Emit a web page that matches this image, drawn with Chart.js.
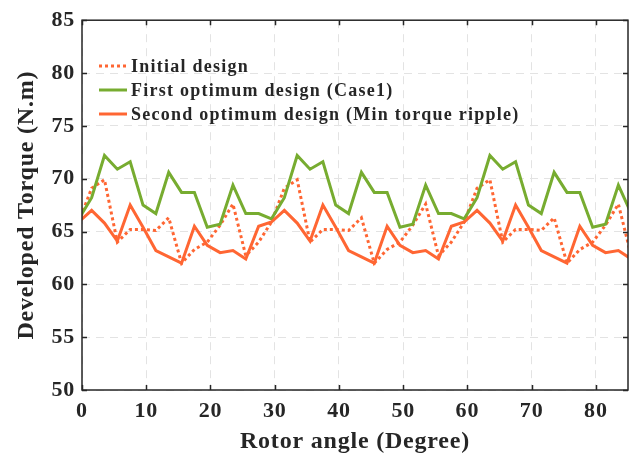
<!DOCTYPE html>
<html>
<head>
<meta charset="utf-8">
<script src="https://cdn.jsdelivr.net/npm/chart.js@4/dist/chart.umd.min.js"></script>
<style>
  html, body { margin: 0; padding: 0; background: #fff; }
  #wrap { width: 638px; height: 462px; }
</style>
</head>
<body>
<div id="wrap"><canvas id="torqueChart" width="638" height="462"></canvas></div>
<script>
// -------- DATA --------
// samples every 2 degrees; the first and last lie just outside the 0..85 axis and get clipped
const angles = [
  -0.5, 1.5, 3.5, 5.5, 7.5, 9.5, 11.5, 13.5, 15.5, 17.5, 19.5, 21.5, 23.5, 25.5, 27.5,
  29.5, 31.5, 33.5, 35.5, 37.5, 39.5, 41.5, 43.5, 45.5, 47.5, 49.5, 51.5, 53.5, 55.5, 57.5,
  59.5, 61.5, 63.5, 65.5, 67.5, 69.5, 71.5, 73.5, 75.5, 77.5, 79.5, 81.5, 83.5, 85.5
];

const initialDesign = [
  65.9, 69.1, 69.9, 64.0, 65.2, 65.2, 65.1, 66.3, 62.0, 63.3, 64.0, 65.6, 67.6, 62.7, 64.0,
  65.9, 69.1, 69.9, 64.0, 65.2, 65.2, 65.1, 66.3, 62.0, 63.3, 64.0, 65.6, 67.6, 62.7, 64.0,
  65.9, 69.1, 69.9, 64.0, 65.2, 65.2, 65.1, 66.3, 62.0, 63.3, 64.0, 65.6, 67.6, 62.7
];

const firstOptimum = [
  66.2, 68.2, 72.2, 70.9, 71.6, 67.5, 66.7, 70.6, 68.7, 68.7, 65.4, 65.7, 69.4, 66.7, 66.7,
  66.2, 68.2, 72.2, 70.9, 71.6, 67.5, 66.7, 70.6, 68.7, 68.7, 65.4, 65.7, 69.4, 66.7, 66.7,
  66.2, 68.2, 72.2, 70.9, 71.6, 67.5, 66.7, 70.6, 68.7, 68.7, 65.4, 65.7, 69.4, 66.7
];

const secondOptimum = [
  65.9, 67.0, 65.8, 64.1, 67.5, 65.4, 63.2, 62.6, 62.0, 65.5, 63.7, 63.0, 63.2, 62.4, 65.5,
  65.9, 67.0, 65.8, 64.1, 67.5, 65.4, 63.2, 62.6, 62.0, 65.5, 63.7, 63.0, 63.2, 62.4, 65.5,
  65.9, 67.0, 65.8, 64.1, 67.5, 65.4, 63.2, 62.6, 62.0, 65.5, 63.7, 63.0, 63.2, 62.4
];

const seriesNames = [
  "Initial design",
  "First optimum design (Case1)",
  "Second optimum design (Min torque ripple)"
];

const xTicks = [0, 10, 20, 30, 40, 50, 60, 70, 80];
const yTicks = [50, 55, 60, 65, 70, 75, 80, 85];

// -------- STYLE --------
const ORANGE = "#ff6633";
const GREEN = "#77ac30";
const INK = "#262626";
const SERIF = "'Liberation Serif', 'Times New Roman', serif";

function toPoints(values) {
  return values.map((v, i) => ({ x: angles[i], y: v }));
}

// the reference text is set a little loose
const looseText = {
  id: "looseText",
  beforeDraw(chart) {
    chart.ctx.letterSpacing = "0.8px";
  }
};

// box round the plot, inward ticks on all four sides, and the legend
const frameAndLegend = {
  id: "frameAndLegend",
  afterDraw(chart) {
    const ctx = chart.ctx;
    const a = chart.chartArea;
    const xs = chart.scales.x;
    const ys = chart.scales.y;
    ctx.save();
    ctx.strokeStyle = INK;
    ctx.lineWidth = 1.5;
    ctx.strokeRect(a.left, a.top, a.right - a.left, a.bottom - a.top);

    ctx.beginPath();
    xTicks.forEach((t) => {
      const px = Math.round(xs.getPixelForValue(t)) + 0.5;
      ctx.moveTo(px, a.bottom); ctx.lineTo(px, a.bottom - 5);
      ctx.moveTo(px, a.top); ctx.lineTo(px, a.top + 5);
    });
    yTicks.forEach((t) => {
      const py = Math.round(ys.getPixelForValue(t)) + 0.5;
      ctx.moveTo(a.left, py); ctx.lineTo(a.left + 5, py);
      ctx.moveTo(a.right, py); ctx.lineTo(a.right - 5, py);
    });
    ctx.stroke();

    // legend, no frame
    const styles = [
      { color: ORANGE, dash: [3, 3] },
      { color: GREEN, dash: [] },
      { color: ORANGE, dash: [] }
    ];
    ctx.font = "bold 18px " + SERIF;
    ctx.letterSpacing = "1.25px";
    ctx.textBaseline = "middle";
    ctx.fillStyle = INK;
    seriesNames.forEach((name, i) => {
      const y = 66 + i * 24;
      ctx.beginPath();
      ctx.strokeStyle = styles[i].color;
      ctx.lineWidth = 3;
      ctx.setLineDash(styles[i].dash);
      ctx.moveTo(a.left + 17, y);
      ctx.lineTo(a.left + 45, y);
      ctx.stroke();
      ctx.setLineDash([]);
      ctx.fillText(name, a.left + 49, y + 1);
    });
    ctx.restore();
  }
};

const ctx = document.getElementById("torqueChart").getContext("2d");
const chart = new Chart(ctx, {
  type: "line",
  data: {
    datasets: [
      {
        label: seriesNames[0],
        data: toPoints(initialDesign),
        borderColor: ORANGE,
        borderWidth: 3,
        borderDash: [3, 3],
        pointRadius: 0,
        tension: 0,
        order: 3
      },
      {
        label: seriesNames[1],
        data: toPoints(firstOptimum),
        borderColor: GREEN,
        borderWidth: 3,
        pointRadius: 0,
        tension: 0,
        order: 2
      },
      {
        label: seriesNames[2],
        data: toPoints(secondOptimum),
        borderColor: ORANGE,
        borderWidth: 3,
        pointRadius: 0,
        tension: 0,
        order: 1
      }
    ]
  },
  options: {
    responsive: false,
    animation: false,
    layout: { padding: { top: 15, right: 10, left: 0, bottom: 0 } },
    plugins: {
      legend: { display: false },
      tooltip: { enabled: false }
    },
    scales: {
      x: {
        type: "linear",
        min: 0,
        max: 85,
        afterFit: (scale) => { scale.height = 72; },
        afterBuildTicks: (scale) => { scale.ticks = xTicks.map((v) => ({ value: v })); },
        grid: { color: "#e3e3e3", lineWidth: 1, drawTicks: false },
        border: { display: false, dash: [8, 6] },
        ticks: {
          padding: 8,
          color: INK,
          maxRotation: 0,
          font: { family: SERIF, size: 22, weight: "bold" }
        },
        title: {
          display: true,
          text: "Rotor angle (Degree)",
          color: INK,
          padding: { top: 0, bottom: 6 },
          font: { family: SERIF, size: 24, weight: "bold" }
        }
      },
      y: {
        min: 50,
        max: 85,
        afterFit: (scale) => { scale.width = 82; },
        afterBuildTicks: (scale) => { scale.ticks = yTicks.map((v) => ({ value: v })); },
        grid: { color: "#e3e3e3", lineWidth: 1, drawTicks: false },
        border: { display: false, dash: [8, 6] },
        ticks: {
          padding: 7,
          color: INK,
          font: { family: SERIF, size: 22, weight: "bold" }
        },
        title: {
          display: true,
          text: "Developed Torque (N.m)",
          color: INK,
          padding: { top: 12, bottom: 0 },
          font: { family: SERIF, size: 24, weight: "bold" }
        }
      }
    }
  },
  plugins: [looseText, frameAndLegend]
});
</script>
</body>
</html>
